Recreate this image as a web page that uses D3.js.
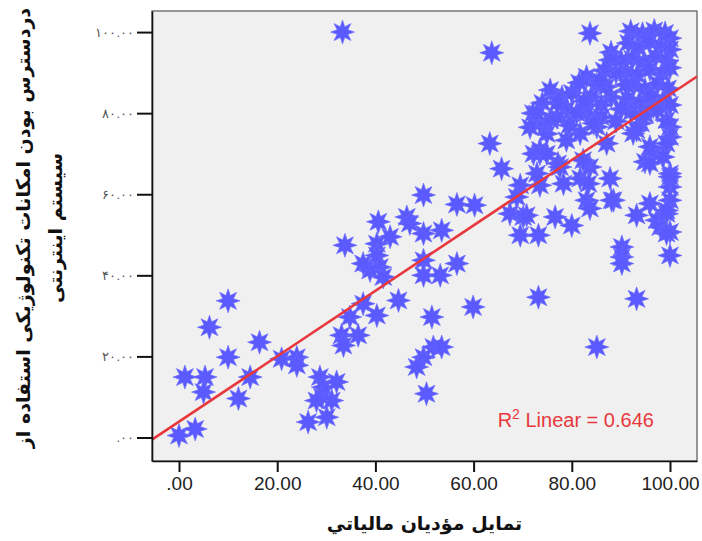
<!DOCTYPE html>
<html>
<head>
<meta charset="utf-8">
<script src="https://cdn.jsdelivr.net/npm/d3@7"></script>
<style>
  body { margin: 0; background: #fff; }
  svg { display: block; }
  .tick text { font-family: "Liberation Sans", Arial, sans-serif; }
</style>
</head>
<body>
<svg id="chart" width="702" height="541"></svg>
<script>
// x: تمايل مؤديان مالياتي , y: دردسترس بودن امکانات ...
const xValues = [
  0, 3.3, 1.2, 5.3, 5.0, 6.2, 10.0, 10.0, 12.1, 14.5, 16.4, 20.9, 24.0, 24.0, 26.3,
  28.7, 29.4, 32.1, 29.1, 31.1, 30.1, 28.0, 33.3,
  33.8, 33.1, 33.5, 36.5, 34.8, 37.5, 40.3, 44.7, 49.8, 48.4, 51.8, 53.5, 50.4, 51.5,
  40.6, 40.3, 40.3, 40.9, 38.9, 41.6, 43.0, 46.4, 47.0, 49.8, 49.8, 49.8, 53.2, 53.5,
  37.5, 49.8,
  56.6, 59.9, 56.6, 60.2, 63.7, 63.3, 65.7, 69.5, 68.8, 67.4, 70.1, 69.5, 73.2, 73.5,
  72.9, 73.5, 74.9, 73.5, 72.2, 73.2, 70.8,
  76.6, 80.0, 78.3, 77.2, 81.7, 83.7, 83.4, 83.0, 83.7, 82.3, 87.8, 88.5, 90.2, 90.2,
  90.2, 93.2, 94.9, 96.6, 85.1, 93.2, 88.1,
  95.9, 97.3, 98.0, 100, 100, 100, 100, 100, 99.3, 100, 100, 99.3, 100, 99.3, 95.9,
  99.3, 98.6, 95.9,
  92.5, 94.1, 87.1, 85.1, 81.7, 78.9, 93.2, 96.6, 99.3, 75.6, 83.7,
  92.0, 94.4, 96.8, 99.0, 100, 91.5, 93.6, 95.8, 98.2, 100, 92.3, 94.7, 97.1, 99.4,
  91.2, 93.3, 95.9, 98.4, 100, 92.6, 94.9, 97.5, 99.6, 91.4, 93.8, 96.2, 98.8, 100,
  92.1, 95.0, 97.4,
  88, 90, 89, 91, 88, 90, 87.8, 83, 85, 84, 86, 83, 86, 75.6, 78, 80, 79, 81, 77, 72.1,
  81.5, 87, 89, 84.5, 79.5, 82.5, 77, 86.5, 74,
  72.9, 71.5, 73.5, 74.9, 77.6, 85.7
];
const yValues = [
  0.5, 2.1, 14.9, 14.9, 11.2, 27.2, 33.7, 19.8, 9.6, 14.9, 23.5, 19.4, 19.8, 17.8, 3.8,
  14.9, 12.4, 13.7, 10.0, 9.1, 5.0, 9.1, 100,
  47.4, 25.2, 22.7, 25.2, 29.7, 33.0, 30.1, 33.8, 19.8, 17.4, 22.3, 22.3, 10.8, 29.7,
  53.2, 47.8, 44.9, 42.0, 41.2, 39.6, 49.5, 54.4, 52.8, 50.3, 43.7, 40.0, 40.0, 51.1,
  42.9, 59.8,
  42.9, 32.2, 57.5, 57.3, 94.9, 72.5, 66.3, 62.2, 59.3, 55.2, 54.4, 49.9, 49.9, 62.2,
  65.1, 70.0, 74.9, 77.5, 70.0, 34.6, 54.8,
  54.4, 52.3, 62.6, 67.6, 63.9, 66.7, 62.6, 58.5, 56.5, 68.4, 63.9, 58.5, 47.0, 44.5,
  42.9, 54.8, 68.0, 70.0, 22.3, 34.2, 58.5,
  57.7, 53.6, 51.9, 50.7, 44.9, 61.8, 65.1, 58.5, 55.2, 76.6, 74.1, 50.3, 64.3, 56.0, 67.6,
  72.5, 69.2, 71.7,
  75.0, 77.5, 72.5, 76.6, 75.0, 73.3, 75.8, 81.6, 78.3, 78.3, 99.7,
  100.2, 99.6, 100.4, 99.8, 98.5, 97.3, 96.1, 97.6, 96.4, 95.7, 93.4, 92.6, 94.0, 92.9,
  90.1, 89.4, 90.8, 89.7, 91.2, 86.8, 85.9, 87.3, 86.1, 83.6, 82.4, 84.1, 83.0, 82.0,
  80.3, 79.6, 80.7,
  95, 93, 90, 87, 84, 81, 93.1, 89, 87, 84, 82, 80, 79, 85.7, 84, 85, 81, 80, 79, 80,
  87.5, 86.5, 78, 77.5, 77.0, 83, 82.5, 90.5, 82.5,
  79.9, 76.5, 70.9, 70.0, 66.7, 88
];
const xTickValues = [0, 20, 40, 60, 80, 100];
const xTickLabels = ['.00', '20.00', '40.00', '60.00', '80.00', '100.00'];
const yTickValues = [0, 20, 40, 60, 80, 100];
const yTickLabels = ['.۰۰', '۲۰.۰۰', '۴۰.۰۰', '۶۰.۰۰', '۸۰.۰۰', '۱۰۰.۰۰'];
const fitIntercept = 3.9;
const fitSlope = 0.807;
const fitR2 = '0.646';
const xTitle = 'تمايل مؤديان مالياتي';
const yTitleLines = ['دردسترس بودن امکانات تکنولوژیکی استفاده از', 'سیستم اینترنتی'];

const points = xValues.map((x, i) => ({ x: x, y: yValues[i] }));

const svg = d3.select('#chart');
const margin = { top: 11, left: 152, right: 5, bottom: 80 };
const width = 702, height = 541;
const plotW = width - margin.left - margin.right;
const plotH = height - margin.top - margin.bottom;

const scaleX = d3.scaleLinear().domain([-5.5, 105.5]).range([0, plotW]);
const scaleY = d3.scaleLinear().domain([-5.8, 105.2]).range([plotH, 0]);

const g = svg.append('g').attr('transform', `translate(${margin.left}, ${margin.top})`);

// plot background
g.append('rect')
  .attr('width', plotW)
  .attr('height', plotH)
  .attr('fill', '#f0f0f0')
  .attr('stroke', '#555')
  .attr('stroke-width', 1.2);

// 8-point star marker
function starPath(rOut, rIn) {
  let pts = [];
  for (let k = 0; k < 16; k++) {
    let a = -Math.PI / 2 + k * Math.PI / 8;
    let r = k % 2 === 0 ? rOut : rIn;
    pts.push([r * Math.cos(a), r * Math.sin(a)]);
  }
  return 'M' + pts.map(p => p[0].toFixed(2) + ',' + p[1].toFixed(2)).join('L') + 'Z';
}
const starD = starPath(12, 5.8);

g.append('g')
  .selectAll('path')
  .data(points)
  .join('path')
  .attr('d', starD)
  .attr('transform', d => `translate(${scaleX(d.x)}, ${scaleY(d.y)})`)
  .attr('fill', '#5a5aff')
  .attr('stroke', '#6a6aff')
  .attr('stroke-width', 0.6);

// fit line
const line = d3.line().x(d => scaleX(d)).y(d => scaleY(fitIntercept + fitSlope * d));
g.append('path')
  .attr('d', line(scaleX.domain()))
  .attr('fill', 'none')
  .attr('stroke', '#e8383d')
  .attr('stroke-width', 2.6);

// R2 label
const r2 = g.append('text')
  .attr('x', scaleX(64.9))
  .attr('y', scaleY(2.6))
  .attr('fill', '#e8383d')
  .attr('font-family', '"Liberation Sans", Arial, sans-serif')
  .attr('font-size', 20);
r2.append('tspan').text('R');
r2.append('tspan').attr('dy', -8).attr('font-size', 14).text('2');
r2.append('tspan').attr('dy', 8).text(' Linear = ' + fitR2);

// axes
const axisB = d3.axisBottom(scaleX)
  .tickValues(xTickValues)
  .tickFormat((d, i) => xTickLabels[i])
  .tickSize(11)
  .tickPadding(5)
  .tickSizeOuter(0);
const bottomAxis = g.append('g')
  .attr('transform', `translate(0, ${plotH})`)
  .call(axisB);
bottomAxis.select('.domain').attr('stroke', '#111').attr('stroke-width', 1.6);
bottomAxis.selectAll('.tick line').attr('stroke', '#111').attr('stroke-width', 2);
bottomAxis.selectAll('.tick text')
  .attr('font-size', 19)
  .attr('fill', '#222');

const axisL = d3.axisLeft(scaleY)
  .tickValues(yTickValues)
  .tickFormat((d, i) => yTickLabels[i])
  .tickSize(15)
  .tickPadding(3)
  .tickSizeOuter(0);
const leftAxis = g.append('g').call(axisL);
leftAxis.select('.domain').attr('stroke', '#111').attr('stroke-width', 1.6);
leftAxis.selectAll('.tick line').attr('stroke', '#111').attr('stroke-width', 2);
leftAxis.selectAll('.tick text')
  .attr('font-family', '"DejaVu Sans", sans-serif')
  .attr('font-size', 13)
  .attr('letter-spacing', 2)
  .attr('fill', '#555');

// titles
svg.append('text')
  .attr('x', margin.left + scaleX(50))
  .attr('y', 530)
  .attr('text-anchor', 'middle')
  .attr('font-family', '"DejaVu Sans", sans-serif')
  .attr('font-weight', 'bold')
  .attr('font-size', 19)
  .attr('fill', '#111')
  .text(xTitle);

const yTitle = svg.append('g')
  .attr('transform', `translate(0, ${margin.top + plotH / 2 - 8}) rotate(-90)`);
yTitle.selectAll('text')
  .data(yTitleLines)
  .join('text')
  .attr('x', 0)
  .attr('y', (d, i) => 30 + i * 32)
  .attr('text-anchor', 'middle')
  .attr('font-family', '"DejaVu Sans", sans-serif')
  .attr('font-weight', 'bold')
  .attr('font-size', 19)
  .attr('fill', '#111')
  .text(d => d);
</script>
</body>
</html>
